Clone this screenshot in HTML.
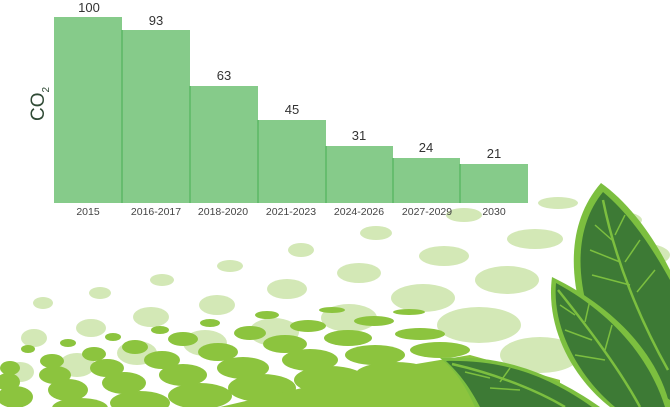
<!DOCTYPE html>
<html><head><meta charset="utf-8"><style>
html,body{margin:0;padding:0;background:#fff;}
svg{display:block;font-family:"Liberation Sans",Arial,sans-serif;}
</style></head><body>
<svg width="670" height="407" viewBox="0 0 670 407" xmlns="http://www.w3.org/2000/svg">
<rect width="670" height="407" fill="#fff"/>
<g fill="#d3e8b6">
<ellipse cx="558" cy="203" rx="20" ry="6"/>
<ellipse cx="464" cy="215" rx="18" ry="7"/>
<ellipse cx="376" cy="233" rx="16" ry="7"/>
<ellipse cx="301" cy="250" rx="13" ry="7"/>
<ellipse cx="230" cy="266" rx="13" ry="6"/>
<ellipse cx="162" cy="280" rx="12" ry="6"/>
<ellipse cx="100" cy="293" rx="11" ry="6"/>
<ellipse cx="43" cy="303" rx="10" ry="6"/>
<ellipse cx="535" cy="239" rx="28" ry="10"/>
<ellipse cx="444" cy="256" rx="25" ry="10"/>
<ellipse cx="359" cy="273" rx="22" ry="10"/>
<ellipse cx="287" cy="289" rx="20" ry="10"/>
<ellipse cx="217" cy="305" rx="18" ry="10"/>
<ellipse cx="151" cy="317" rx="18" ry="10"/>
<ellipse cx="91" cy="328" rx="15" ry="9"/>
<ellipse cx="34" cy="338" rx="13" ry="9"/>
<ellipse cx="507" cy="280" rx="32" ry="14"/>
<ellipse cx="423" cy="298" rx="32" ry="14"/>
<ellipse cx="479" cy="325" rx="42" ry="18"/>
<ellipse cx="349" cy="318" rx="28" ry="14"/>
<ellipse cx="274" cy="332" rx="25" ry="14"/>
<ellipse cx="205" cy="343" rx="22" ry="13"/>
<ellipse cx="137" cy="353" rx="20" ry="12"/>
<ellipse cx="77" cy="365" rx="18" ry="12"/>
<ellipse cx="20" cy="372" rx="14" ry="10"/>
<ellipse cx="640" cy="255" rx="30" ry="12"/>
<ellipse cx="655" cy="310" rx="30" ry="16"/>
<ellipse cx="540" cy="355" rx="40" ry="18"/>
<ellipse cx="622" cy="220" rx="20" ry="8"/>
</g>
<g fill="#8cc43e">
<ellipse cx="332" cy="310" rx="13" ry="3"/>
<ellipse cx="409" cy="312" rx="16" ry="3"/>
<ellipse cx="267" cy="315" rx="12" ry="4"/>
<ellipse cx="210" cy="323" rx="10" ry="4"/>
<ellipse cx="160" cy="330" rx="9" ry="4"/>
<ellipse cx="113" cy="337" rx="8" ry="4"/>
<ellipse cx="68" cy="343" rx="8" ry="4"/>
<ellipse cx="28" cy="349" rx="7" ry="4"/>
<ellipse cx="374" cy="321" rx="20" ry="5"/>
<ellipse cx="308" cy="326" rx="18" ry="6"/>
<ellipse cx="250" cy="333" rx="16" ry="7"/>
<ellipse cx="183" cy="339" rx="15" ry="7"/>
<ellipse cx="135" cy="347" rx="13" ry="7"/>
<ellipse cx="94" cy="354" rx="12" ry="7"/>
<ellipse cx="52" cy="361" rx="12" ry="7"/>
<ellipse cx="10" cy="368" rx="10" ry="7"/>
<ellipse cx="420" cy="334" rx="25" ry="6"/>
<ellipse cx="348" cy="338" rx="24" ry="8"/>
<ellipse cx="285" cy="344" rx="22" ry="9"/>
<ellipse cx="218" cy="352" rx="20" ry="9"/>
<ellipse cx="162" cy="360" rx="18" ry="9"/>
<ellipse cx="107" cy="368" rx="17" ry="9"/>
<ellipse cx="55" cy="375" rx="16" ry="9"/>
<ellipse cx="8" cy="382" rx="12" ry="9"/>
<ellipse cx="440" cy="350" rx="30" ry="8"/>
<ellipse cx="375" cy="355" rx="30" ry="10"/>
<ellipse cx="310" cy="360" rx="28" ry="11"/>
<ellipse cx="243" cy="368" rx="26" ry="11"/>
<ellipse cx="183" cy="375" rx="24" ry="11"/>
<ellipse cx="124" cy="383" rx="22" ry="11"/>
<ellipse cx="68" cy="390" rx="20" ry="11"/>
<ellipse cx="15" cy="397" rx="18" ry="11"/>
<ellipse cx="395" cy="375" rx="40" ry="13"/>
<ellipse cx="330" cy="380" rx="36" ry="14"/>
<ellipse cx="262" cy="388" rx="34" ry="14"/>
<ellipse cx="200" cy="396" rx="32" ry="13"/>
<ellipse cx="140" cy="403" rx="30" ry="12"/>
<ellipse cx="80" cy="408" rx="28" ry="10"/>
<path d="M380 370 L470 355 L560 380 L560 407 L220 407 Z"/>
</g>
<g>
<path d="M601 183 C560 230 570 300 600 360 L670 407 L670 270 C650 230 625 200 601 183 Z" fill="#7cbf3f"/>
<path d="M603 192 C568 235 578 300 605 355 L670 400 L670 280 C648 240 625 210 603 192 Z" fill="#3d7a35"/>
<path d="M552 277 C545 330 575 380 610 407 L670 407 C660 360 620 310 552 277 Z" fill="#7cbf3f"/>
<path d="M556 283 C552 330 580 378 615 407 L665 407 C650 360 615 315 556 283 Z" fill="#3d7a35"/>
<path d="M440 358 C490 355 540 365 600 407 L475 407 C465 385 455 370 440 358 Z" fill="#7cbf3f"/>
<path d="M446 361 C495 360 540 370 592 407 L480 407 C470 388 460 374 446 361 Z" fill="#3d7a35"/>
<g stroke="#7cbf3f" stroke-width="2.5" fill="none">
<path d="M603 200 C615 260 640 320 668 370"/>
<path d="M558 290 C590 330 620 370 640 407"/>
<path d="M452 364 C500 375 540 392 565 407"/>
</g>
<g stroke="#7cbf3f" stroke-width="1.5" fill="none">
<path d="M612 240 L595 225"/><path d="M620 262 L590 250"/><path d="M630 285 L592 275"/>
<path d="M615 235 L625 215"/><path d="M625 262 L640 240"/><path d="M637 292 L655 270"/>
<path d="M575 315 L560 305"/><path d="M592 340 L565 330"/><path d="M605 360 L575 355"/>
<path d="M585 322 L590 300"/><path d="M605 350 L612 325"/>
<path d="M490 378 L465 372"/><path d="M520 390 L490 388"/><path d="M500 382 L510 368"/>
</g>
</g>
<g fill="#86cb8a">
<rect x="54" y="17" width="68" height="186"/>
<rect x="122" y="30" width="68" height="173"/>
<rect x="190" y="86" width="68" height="117"/>
<rect x="258" y="120" width="68" height="83"/>
<rect x="326" y="146" width="67" height="57"/>
<rect x="393" y="158" width="67" height="45"/>
<rect x="460" y="164" width="68" height="39"/>
</g>
<g stroke="#5cb864" stroke-width="1.5">
<line x1="122" y1="30" x2="122" y2="203"/>
<line x1="190" y1="86" x2="190" y2="203"/>
<line x1="258" y1="120" x2="258" y2="203"/>
<line x1="326" y1="146" x2="326" y2="203"/>
<line x1="393" y1="158" x2="393" y2="203"/>
<line x1="460" y1="164" x2="460" y2="203"/>
</g>
<g fill="#333" font-size="13" text-anchor="middle">
<text x="89" y="12">100</text>
<text x="156" y="25">93</text>
<text x="224" y="80">63</text>
<text x="292" y="114">45</text>
<text x="359" y="140">31</text>
<text x="426" y="152">24</text>
<text x="494" y="158">21</text>
</g>
<g fill="#444" font-size="10.5" text-anchor="middle">
<text x="88" y="215">2015</text>
<text x="156" y="215">2016-2017</text>
<text x="223" y="215">2018-2020</text>
<text x="291" y="215">2021-2023</text>
<text x="359" y="215">2024-2026</text>
<text x="427" y="215">2027-2029</text>
<text x="494" y="215">2030</text>
</g>
<text transform="translate(44,104) rotate(-90)" fill="#2f4a35" font-size="19" text-anchor="middle">CO<tspan font-size="10" dy="5">2</tspan></text>
</svg>
</body></html>
